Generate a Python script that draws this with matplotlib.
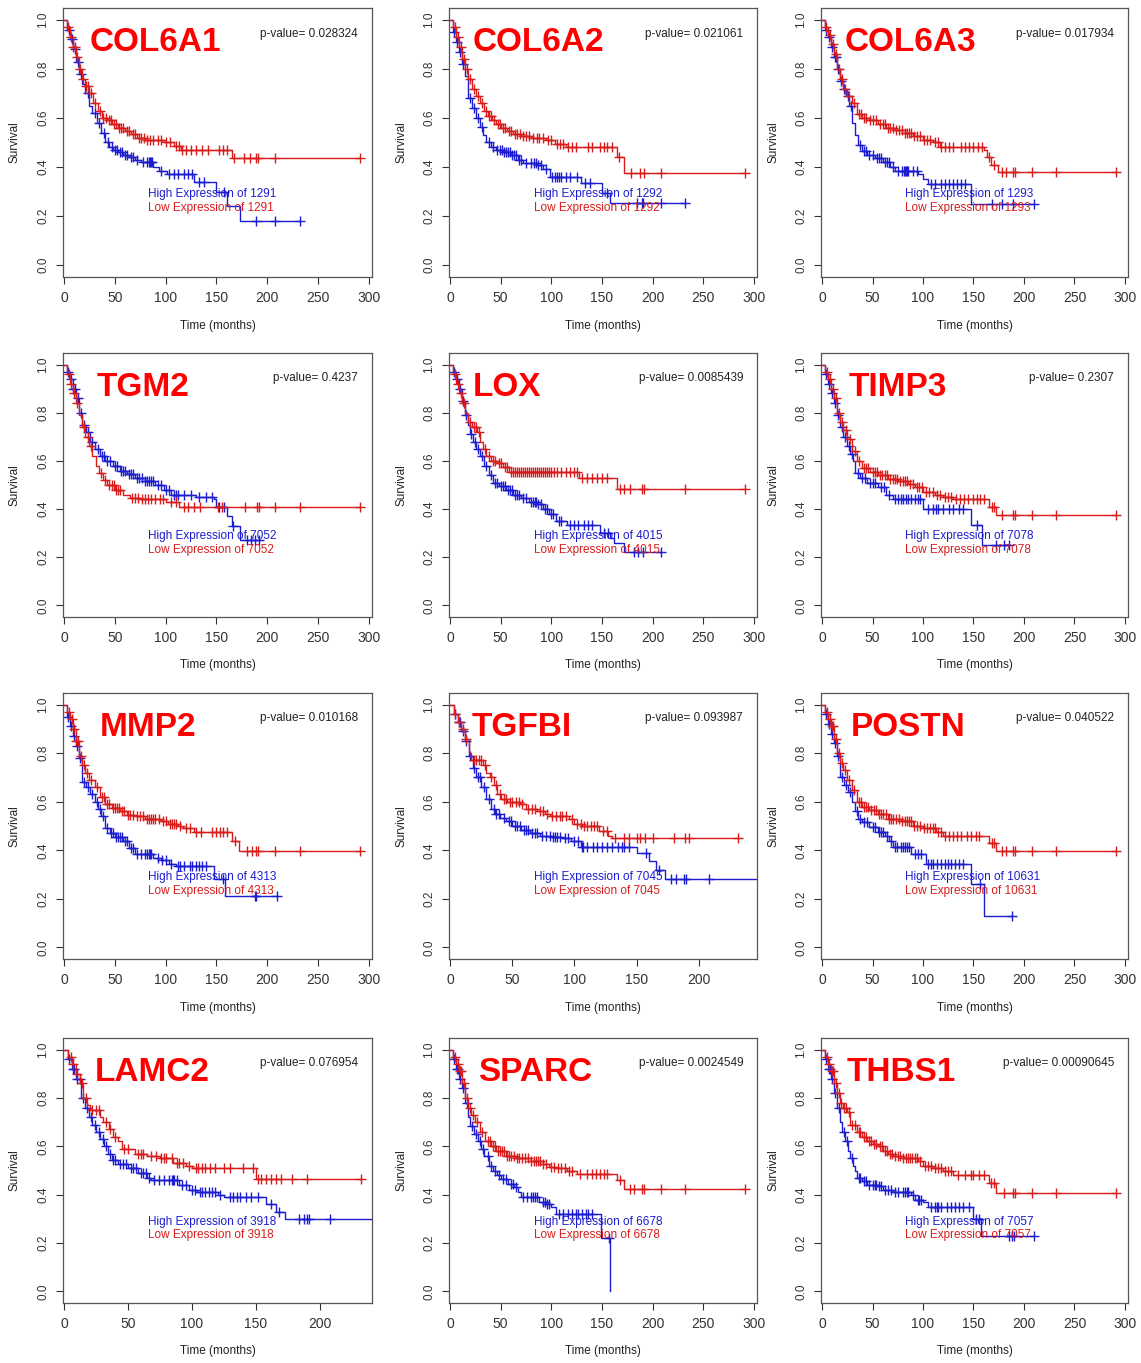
import numpy as np
import matplotlib
matplotlib.use('Agg')
import matplotlib.pyplot as plt

plt.rcParams['font.family'] = ['Liberation Sans', 'DejaVu Sans']

genes = ["COL6A1", "COL6A2", "COL6A3", "TGM2", "LOX", "TIMP3",
         "MMP2", "TGFBI", "POSTN", "LAMC2", "SPARC", "THBS1"]
pvals = ["0.028324", "0.021061", "0.017934", "0.4237", "0.0085439", "0.2307",
         "0.010168", "0.093987", "0.040522", "0.076954", "0.0024549", "0.00090645"]
n_split = [1291, 1292, 1293, 7052, 4015, 7078, 4313, 7045, 10631, 3918, 6678, 7057]

# step curves, high expression (blue)
high_t = [
    [0, 3, 6, 9, 12, 15, 18, 21, 25, 28, 32, 36, 40, 44, 48, 53, 58, 64, 70, 76, 88, 93, 101, 128, 150, 160, 173, 232],
    [0, 3, 6, 9, 12, 15, 18, 22, 26, 30, 33, 36, 40, 45, 52, 60, 67, 72, 86, 92, 99, 129, 150, 158, 232],
    [0, 3, 6, 9, 12, 15, 18, 21, 24, 27, 30, 33, 36, 40, 45, 52, 60, 67, 72, 95, 100, 105, 148, 210],
    [0, 3, 6, 9, 12, 15, 18, 22, 26, 30, 35, 40, 48, 55, 62, 70, 80, 90, 98, 105, 130, 148, 150, 160, 165, 173, 192],
    [0, 3, 6, 9, 12, 15, 18, 20, 23, 26, 30, 34, 38, 42, 48, 55, 62, 70, 78, 86, 92, 98, 105, 115, 148, 158, 162, 172, 208],
    [0, 3, 6, 9, 12, 15, 18, 21, 25, 28, 31, 33, 38, 45, 55, 63, 70, 100, 148, 158, 185],
    [0, 3, 6, 9, 12, 15, 18, 22, 26, 30, 33, 36, 40, 45, 50, 58, 64, 70, 88, 95, 103, 110, 148, 158, 210],
    [0, 3, 6, 9, 12, 15, 18, 21, 25, 29, 33, 36, 40, 45, 50, 57, 64, 72, 82, 90, 97, 105, 150, 160, 166, 173, 247],
    [0, 3, 6, 9, 12, 15, 18, 22, 26, 30, 33, 36, 40, 47, 55, 62, 66, 70, 88, 103, 148, 160, 188],
    [0, 3, 6, 9, 13, 16, 19, 22, 25, 28, 31, 34, 37, 42, 50, 58, 65, 68, 90, 98, 104, 120, 125, 158, 166, 173, 241],
    [0, 3, 6, 9, 12, 15, 18, 20, 24, 28, 31, 34, 38, 42, 46, 50, 57, 63, 67, 70, 88, 95, 100, 105, 149, 158],
    [0, 3, 6, 9, 12, 15, 18, 20, 23, 26, 28, 31, 33, 35, 40, 45, 55, 60, 70, 88, 92, 100, 105, 150, 157, 210],
]
high_s = [
    [1.0, 0.96, 0.92, 0.88, 0.83, 0.78, 0.74, 0.70, 0.65, 0.62, 0.58, 0.54, 0.50, 0.48, 0.47, 0.46, 0.45, 0.44, 0.43, 0.42, 0.40, 0.385, 0.37, 0.34, 0.30, 0.24, 0.18, 0.18],
    [1.0, 0.95, 0.91, 0.87, 0.82, 0.77, 0.68, 0.64, 0.60, 0.565, 0.53, 0.50, 0.48, 0.47, 0.46, 0.45, 0.43, 0.415, 0.41, 0.39, 0.36, 0.335, 0.295, 0.255, 0.255],
    [1.0, 0.96, 0.93, 0.89, 0.85, 0.80, 0.75, 0.72, 0.69, 0.65, 0.58, 0.53, 0.49, 0.465, 0.45, 0.435, 0.42, 0.40, 0.385, 0.37, 0.35, 0.33, 0.25, 0.25],
    [1.0, 0.97, 0.94, 0.90, 0.86, 0.80, 0.75, 0.72, 0.68, 0.65, 0.62, 0.60, 0.58, 0.56, 0.545, 0.53, 0.515, 0.50, 0.48, 0.46, 0.45, 0.44, 0.41, 0.37, 0.33, 0.27, 0.27],
    [1.0, 0.97, 0.94, 0.90, 0.85, 0.79, 0.75, 0.71, 0.68, 0.65, 0.62, 0.58, 0.54, 0.51, 0.495, 0.48, 0.46, 0.445, 0.43, 0.42, 0.40, 0.38, 0.35, 0.335, 0.30, 0.28, 0.26, 0.22, 0.22],
    [1.0, 0.96, 0.92, 0.88, 0.84, 0.79, 0.74, 0.70, 0.66, 0.63, 0.60, 0.55, 0.53, 0.51, 0.49, 0.46, 0.44, 0.40, 0.335, 0.25, 0.25],
    [1.0, 0.95, 0.91, 0.87, 0.83, 0.78, 0.68, 0.66, 0.63, 0.60, 0.57, 0.54, 0.49, 0.47, 0.455, 0.44, 0.41, 0.385, 0.37, 0.36, 0.345, 0.335, 0.28, 0.21, 0.21],
    [1.0, 0.96, 0.93, 0.89, 0.85, 0.79, 0.74, 0.70, 0.66, 0.61, 0.57, 0.55, 0.535, 0.52, 0.50, 0.485, 0.47, 0.46, 0.455, 0.45, 0.44, 0.415, 0.39, 0.355, 0.32, 0.28, 0.28],
    [1.0, 0.96, 0.92, 0.88, 0.84, 0.79, 0.70, 0.67, 0.64, 0.60, 0.56, 0.53, 0.515, 0.495, 0.475, 0.46, 0.44, 0.415, 0.385, 0.345, 0.26, 0.13, 0.13],
    [1.0, 0.96, 0.92, 0.88, 0.80, 0.76, 0.72, 0.69, 0.66, 0.63, 0.60, 0.57, 0.545, 0.525, 0.51, 0.49, 0.47, 0.46, 0.44, 0.42, 0.41, 0.40, 0.39, 0.36, 0.33, 0.30, 0.30],
    [1.0, 0.96, 0.92, 0.88, 0.84, 0.78, 0.72, 0.685, 0.65, 0.62, 0.59, 0.56, 0.52, 0.50, 0.48, 0.465, 0.445, 0.43, 0.41, 0.39, 0.37, 0.36, 0.35, 0.32, 0.22, 0.0],
    [1.0, 0.96, 0.92, 0.88, 0.82, 0.76, 0.70, 0.66, 0.62, 0.58, 0.55, 0.52, 0.50, 0.47, 0.455, 0.44, 0.435, 0.42, 0.41, 0.40, 0.38, 0.37, 0.35, 0.30, 0.23, 0.23],
]
high_cens = [
    [5, 8, 11, 14, 17, 24, 30, 34, 39, 43, 47, 50, 52, 55, 57, 60, 62, 66, 68, 72, 78, 82, 84, 85, 86, 87, 95, 103, 108, 112, 118, 122, 126, 133, 138, 157, 189, 208, 232],
    [4, 7, 10, 13, 20, 24, 28, 32, 38, 42, 46, 49, 51, 53, 55, 57, 59, 61, 63, 65, 68, 70, 75, 80, 83, 85, 87, 90, 95, 101, 104, 106, 108, 110, 114, 118, 125, 133, 138, 155, 185, 189, 190, 208, 232],
    [4, 7, 10, 13, 14, 16, 19, 22, 26, 29, 38, 42, 44, 47, 50, 54, 56, 58, 62, 64, 66, 70, 75, 79, 81, 82, 83, 84, 85, 90, 94, 108, 112, 118, 122, 126, 130, 134, 138, 142, 168, 178, 189, 210],
    [4, 7, 9, 11, 14, 17, 20, 24, 28, 33, 37, 39, 42, 45, 50, 52, 56, 58, 60, 64, 66, 68, 72, 74, 77, 80, 82, 84, 86, 88, 92, 95, 100, 103, 108, 110, 112, 118, 125, 133, 140, 146, 152, 157, 166, 180, 184, 188, 192],
    [4, 7, 10, 13, 16, 21, 25, 28, 32, 36, 40, 44, 46, 50, 52, 54, 57, 59, 61, 64, 66, 68, 72, 75, 80, 82, 84, 85, 87, 90, 94, 96, 100, 102, 108, 110, 118, 122, 126, 132, 136, 140, 152, 156, 182, 186, 190, 208],
    [4, 7, 10, 13, 16, 20, 23, 27, 30, 36, 40, 43, 48, 50, 52, 58, 61, 66, 72, 75, 78, 80, 83, 85, 88, 92, 95, 97, 105, 110, 113, 115, 120, 126, 130, 136, 140, 153, 172, 180, 185],
    [4, 7, 10, 13, 16, 20, 24, 28, 32, 35, 38, 42, 46, 48, 51, 53, 55, 57, 60, 62, 66, 68, 72, 76, 80, 82, 84, 85, 86, 92, 96, 100, 105, 112, 114, 118, 124, 126, 130, 133, 136, 140, 156, 188, 189, 210],
    [4, 7, 8, 10, 13, 16, 19, 22, 24, 27, 31, 35, 37, 39, 43, 47, 49, 52, 54, 56, 59, 61, 63, 66, 68, 70, 74, 77, 80, 83, 84, 86, 88, 92, 95, 100, 103, 106, 107, 110, 115, 118, 122, 126, 130, 135, 138, 140, 144, 158, 168, 178, 182, 188, 190, 208],
    [4, 7, 10, 13, 16, 20, 24, 28, 35, 38, 42, 45, 50, 52, 56, 58, 60, 64, 68, 72, 74, 78, 80, 82, 84, 86, 92, 95, 98, 105, 108, 110, 114, 118, 122, 125, 128, 132, 136, 140, 156, 188],
    [4, 7, 8, 10, 12, 15, 18, 21, 24, 27, 30, 33, 36, 38, 40, 44, 46, 48, 52, 54, 56, 60, 62, 64, 66, 70, 74, 78, 82, 84, 85, 86, 88, 92, 95, 100, 102, 106, 108, 110, 113, 116, 118, 122, 130, 132, 135, 138, 142, 146, 152, 162, 168, 184, 188, 190, 192, 208],
    [4, 7, 8, 10, 13, 17, 22, 26, 30, 33, 37, 40, 44, 48, 52, 55, 60, 62, 65, 72, 76, 80, 82, 84, 86, 92, 94, 96, 98, 108, 112, 116, 120, 124, 126, 130, 134, 136, 140, 157],
    [4, 7, 8, 10, 13, 17, 22, 25, 30, 37, 38, 42, 44, 47, 50, 52, 53, 56, 58, 62, 65, 68, 72, 75, 80, 82, 84, 85, 90, 95, 96, 98, 108, 112, 114, 115, 118, 124, 128, 132, 136, 140, 146, 152, 155, 185, 188, 190, 210],
]

# step curves, low expression (red)
low_t = [
    [0, 3, 6, 9, 12, 15, 18, 21, 25, 29, 33, 37, 42, 47, 53, 60, 66, 72, 80, 98, 108, 115, 165, 291],
    [0, 3, 6, 9, 12, 15, 18, 22, 26, 30, 34, 37, 41, 45, 50, 56, 62, 70, 80, 95, 104, 114, 165, 172, 291],
    [0, 3, 6, 9, 12, 15, 18, 21, 25, 30, 35, 40, 47, 55, 63, 72, 82, 90, 100, 110, 117, 160, 163, 167, 174, 291],
    [0, 3, 6, 9, 12, 15, 18, 21, 25, 28, 31, 34, 38, 42, 50, 58, 65, 75, 100, 113, 291],
    [0, 3, 6, 9, 12, 15, 18, 22, 27, 30, 33, 36, 40, 46, 52, 58, 127, 165, 291],
    [0, 3, 6, 9, 12, 15, 18, 21, 25, 30, 35, 40, 48, 55, 65, 75, 85, 92, 100, 112, 120, 130, 165, 172, 291],
    [0, 3, 6, 9, 12, 15, 18, 21, 25, 30, 35, 40, 47, 55, 62, 70, 80, 95, 102, 112, 117, 128, 165, 172, 291],
    [0, 3, 6, 9, 12, 15, 17, 26, 29, 32, 35, 38, 41, 46, 56, 61, 70, 76, 80, 96, 100, 106, 120, 127, 130, 232],
    [0, 3, 6, 9, 12, 15, 18, 21, 25, 30, 35, 40, 47, 55, 65, 78, 90, 100, 113, 120, 165, 172, 291],
    [0, 3, 6, 9, 12, 15, 18, 20, 28, 30, 35, 38, 42, 45, 55, 65, 75, 85, 95, 100, 150, 232],
    [0, 3, 6, 9, 12, 15, 18, 21, 25, 30, 35, 40, 45, 55, 65, 80, 92, 98, 105, 115, 125, 165, 172, 291],
    [0, 3, 6, 9, 12, 15, 18, 21, 25, 28, 35, 40, 45, 50, 55, 60, 65, 70, 80, 95, 100, 110, 120, 130, 165, 172, 291],
]
low_s = [
    [1.0, 0.97, 0.93, 0.89, 0.85, 0.80, 0.76, 0.73, 0.70, 0.66, 0.63, 0.60, 0.59, 0.575, 0.56, 0.545, 0.535, 0.52, 0.51, 0.50, 0.485, 0.47, 0.435, 0.435],
    [1.0, 0.97, 0.93, 0.89, 0.84, 0.80, 0.76, 0.72, 0.69, 0.66, 0.63, 0.61, 0.59, 0.575, 0.56, 0.545, 0.535, 0.525, 0.52, 0.51, 0.495, 0.48, 0.44, 0.375, 0.375],
    [1.0, 0.97, 0.94, 0.90, 0.86, 0.80, 0.76, 0.72, 0.69, 0.66, 0.615, 0.60, 0.59, 0.575, 0.56, 0.55, 0.54, 0.525, 0.51, 0.50, 0.48, 0.47, 0.44, 0.41, 0.38, 0.38],
    [1.0, 0.96, 0.92, 0.88, 0.84, 0.79, 0.74, 0.70, 0.66, 0.62, 0.58, 0.55, 0.52, 0.50, 0.48, 0.46, 0.445, 0.44, 0.43, 0.41, 0.41],
    [1.0, 0.96, 0.92, 0.88, 0.84, 0.80, 0.76, 0.74, 0.72, 0.68, 0.65, 0.62, 0.60, 0.59, 0.575, 0.555, 0.53, 0.485, 0.485],
    [1.0, 0.97, 0.94, 0.90, 0.86, 0.80, 0.76, 0.73, 0.69, 0.64, 0.60, 0.57, 0.555, 0.54, 0.525, 0.515, 0.505, 0.49, 0.47, 0.46, 0.45, 0.44, 0.41, 0.375, 0.375],
    [1.0, 0.97, 0.94, 0.90, 0.85, 0.79, 0.75, 0.72, 0.69, 0.66, 0.62, 0.59, 0.575, 0.56, 0.545, 0.54, 0.53, 0.52, 0.51, 0.50, 0.49, 0.475, 0.44, 0.395, 0.395],
    [1.0, 0.96, 0.93, 0.90, 0.86, 0.80, 0.77, 0.75, 0.72, 0.70, 0.67, 0.63, 0.61, 0.60, 0.59, 0.57, 0.56, 0.55, 0.54, 0.53, 0.51, 0.50, 0.48, 0.46, 0.45, 0.45],
    [1.0, 0.97, 0.94, 0.91, 0.86, 0.80, 0.76, 0.73, 0.69, 0.65, 0.60, 0.58, 0.565, 0.55, 0.53, 0.52, 0.50, 0.49, 0.475, 0.46, 0.43, 0.395, 0.395],
    [1.0, 0.97, 0.94, 0.90, 0.86, 0.80, 0.77, 0.75, 0.72, 0.70, 0.67, 0.64, 0.62, 0.59, 0.57, 0.56, 0.55, 0.53, 0.52, 0.51, 0.465, 0.465],
    [1.0, 0.97, 0.94, 0.91, 0.86, 0.80, 0.76, 0.73, 0.70, 0.66, 0.62, 0.60, 0.58, 0.56, 0.55, 0.54, 0.525, 0.515, 0.51, 0.50, 0.485, 0.46, 0.425, 0.425],
    [1.0, 0.97, 0.94, 0.91, 0.86, 0.82, 0.78, 0.76, 0.74, 0.69, 0.66, 0.64, 0.62, 0.61, 0.60, 0.58, 0.57, 0.56, 0.55, 0.54, 0.52, 0.51, 0.50, 0.48, 0.45, 0.405, 0.405],
]
low_cens = [
    [4, 7, 9, 11, 13, 16, 19, 22, 24, 27, 30, 35, 38, 41, 44, 46, 49, 51, 54, 56, 58, 62, 64, 68, 70, 74, 76, 79, 82, 85, 88, 92, 95, 100, 104, 110, 113, 116, 120, 125, 130, 136, 142, 152, 156, 160, 167, 177, 183, 189, 191, 208, 291],
    [5, 8, 11, 14, 17, 20, 24, 28, 32, 36, 38, 40, 43, 47, 49, 52, 54, 58, 60, 64, 66, 69, 72, 75, 78, 82, 86, 88, 92, 97, 100, 106, 109, 112, 116, 120, 124, 136, 140, 148, 152, 155, 160, 167, 179, 188, 191, 208, 291],
    [4, 8, 11, 14, 17, 20, 23, 27, 32, 37, 39, 42, 44, 48, 50, 53, 57, 60, 62, 65, 67, 70, 73, 76, 79, 82, 84, 86, 88, 91, 94, 97, 101, 104, 107, 112, 115, 118, 122, 126, 130, 138, 142, 146, 150, 154, 158, 165, 170, 178, 182, 189, 191, 208, 232, 291],
    [5, 7, 10, 13, 20, 24, 27, 36, 40, 44, 47, 49, 51, 53, 55, 67, 70, 73, 77, 80, 83, 86, 90, 94, 97, 105, 110, 118, 122, 128, 134, 151, 155, 178, 190, 192, 208, 232, 291],
    [5, 8, 11, 14, 20, 24, 26, 29, 35, 38, 42, 44, 48, 50, 54, 56, 60, 62, 64, 66, 68, 70, 72, 74, 76, 78, 80, 82, 84, 86, 88, 90, 92, 94, 96, 98, 100, 103, 106, 110, 114, 118, 122, 125, 130, 135, 140, 145, 150, 155, 168, 172, 178, 189, 191, 232, 291],
    [5, 8, 11, 14, 17, 20, 24, 28, 33, 37, 42, 44, 46, 50, 52, 54, 57, 59, 62, 64, 67, 70, 72, 74, 77, 80, 82, 84, 87, 90, 94, 96, 99, 103, 106, 110, 114, 117, 122, 125, 128, 133, 137, 141, 145, 150, 153, 156, 160, 168, 170, 178, 189, 191, 208, 232, 291],
    [5, 8, 10, 12, 14, 17, 20, 23, 27, 32, 37, 39, 42, 44, 48, 50, 52, 54, 57, 59, 63, 65, 68, 72, 75, 78, 82, 84, 86, 88, 90, 93, 97, 100, 104, 106, 108, 110, 114, 120, 124, 130, 135, 146, 150, 153, 156, 160, 168, 180, 185, 189, 191, 208, 232, 291],
    [4, 7, 10, 13, 19, 21, 23, 25, 28, 33, 37, 40, 43, 45, 48, 50, 53, 55, 58, 63, 66, 68, 72, 75, 78, 82, 85, 88, 90, 93, 98, 102, 105, 108, 110, 113, 116, 118, 123, 126, 133, 140, 144, 150, 153, 157, 163, 180, 189, 192, 232],
    [5, 8, 10, 11, 14, 17, 20, 23, 27, 32, 37, 39, 42, 44, 46, 49, 51, 53, 56, 58, 60, 63, 66, 68, 70, 73, 76, 79, 82, 84, 86, 88, 91, 94, 97, 101, 104, 107, 110, 112, 115, 118, 122, 126, 130, 134, 138, 144, 148, 152, 155, 168, 170, 178, 182, 189, 191, 208, 232, 291],
    [5, 7, 10, 14, 17, 22, 25, 27, 33, 36, 40, 47, 50, 58, 60, 62, 68, 72, 76, 78, 80, 84, 88, 90, 93, 98, 103, 105, 108, 110, 114, 118, 125, 130, 140, 148, 152, 154, 158, 162, 166, 170, 178, 190, 232],
    [5, 8, 10, 11, 14, 17, 20, 23, 27, 32, 37, 39, 42, 44, 47, 49, 51, 53, 56, 58, 60, 63, 66, 68, 71, 74, 77, 80, 83, 85, 87, 89, 92, 95, 100, 103, 107, 110, 113, 117, 120, 128, 135, 140, 144, 148, 152, 155, 168, 178, 182, 189, 191, 208, 232, 291],
    [5, 7, 10, 11, 14, 17, 19, 22, 24, 27, 30, 33, 37, 38, 42, 44, 47, 49, 51, 53, 57, 59, 62, 64, 67, 69, 72, 75, 77, 80, 83, 85, 87, 89, 92, 94, 97, 102, 105, 108, 112, 115, 118, 122, 125, 128, 135, 142, 148, 150, 155, 160, 167, 170, 180, 189, 191, 208, 232, 291],
]

# layout (pixels of the 1141x1363 canvas)
W, H = 1141, 1363
col_left = [63, 449, 821]
col_right = [372, 757, 1128]
row_top = [8, 353, 693, 1038]
row_bot = [277, 617, 959, 1303]
x_max = [303, 303, 303, 303, 303, 303, 303, 247, 303, 241, 303, 303]
name_x = [0.087, 0.078, 0.078, 0.11, 0.078, 0.09, 0.12, 0.075, 0.097, 0.104, 0.094, 0.082]

BLUE = '#1c1cd0'
RED = '#d81c1c'


def km_at(times, surv, t):
    idx = np.searchsorted(times, t, side='right') - 1
    return np.asarray(surv)[idx]


fig = plt.figure(figsize=(W / 100, H / 100), dpi=100)

for i, gene in enumerate(genes):
    r, c = divmod(i, 3)
    ax = fig.add_axes([col_left[c] / W, 1 - row_bot[r] / H,
                       (col_right[c] - col_left[c]) / W,
                       (row_bot[r] - row_top[r]) / H])

    for tt, ss, cc, col in [(high_t[i], high_s[i], high_cens[i], BLUE),
                            (low_t[i], low_s[i], low_cens[i], RED)]:
        ax.step(tt, ss, where='post', color=col, lw=1.0)
        ax.plot(cc, km_at(tt, ss, cc), '+', color=col, ms=7, mew=1.0)

    ax.set_xlim(-1, x_max[i])
    ax.set_ylim(-0.048, 1.048)
    ax.set_xticks(np.arange(0, x_max[i], 50))
    ax.set_yticks([0.0, 0.2, 0.4, 0.6, 0.8, 1.0])
    ax.set_yticklabels(['0.0', '0.2', '0.4', '0.6', '0.8', '1.0'],
                       rotation=90, va='center')
    ax.tick_params(axis='x', labelsize=10, length=5, width=0.8, pad=5,
                   colors='#333333')
    ax.tick_params(axis='y', labelsize=8.5, length=5, width=0.8, pad=5,
                   colors='#333333')
    for sp in ax.spines.values():
        sp.set_color('#555555')
        sp.set_linewidth(0.9)

    ax.set_xlabel('Time (months)', fontsize=8.5, color='#222222')
    ax.xaxis.set_label_coords(0.5, -0.16)
    ax.set_ylabel('Survival', fontsize=8.5, color='#222222')
    ax.yaxis.set_label_coords(-0.136, 0.5)

    ax.text(name_x[i], 0.87, gene, transform=ax.transAxes, fontsize=24,
            fontweight='bold', color='#ff0000', va='center', ha='left')
    ax.text(0.955, 0.905, 'p-value= ' + pvals[i], transform=ax.transAxes,
            fontsize=8.5, color='#222222', ha='right', va='center')
    ax.text(0.275, 0.307, 'High Expression of %d' % n_split[i],
            transform=ax.transAxes, fontsize=8.5, color=BLUE, va='center')
    ax.text(0.275, 0.255, 'Low Expression of %d' % n_split[i],
            transform=ax.transAxes, fontsize=8.5, color=RED, va='center')

fig.savefig('out.png', dpi=100)
